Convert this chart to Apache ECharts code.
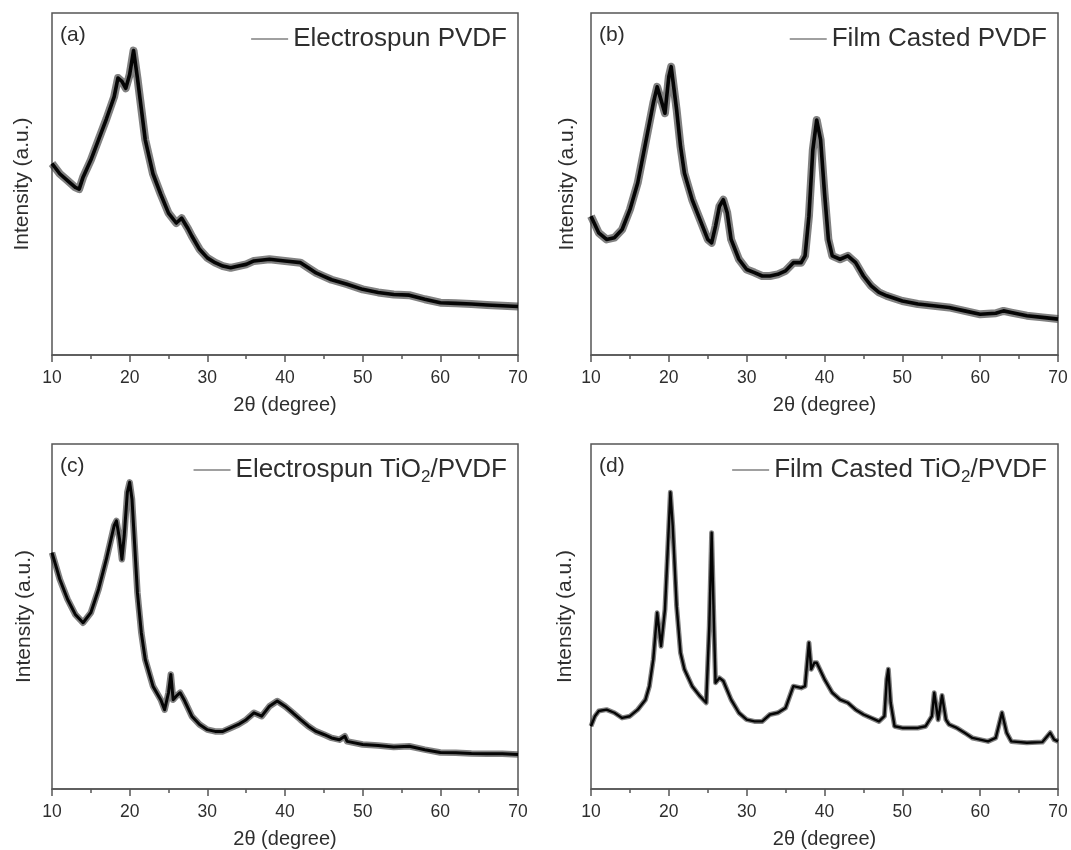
<!DOCTYPE html>
<html>
<head>
<meta charset="utf-8">
<script src="https://cdn.jsdelivr.net/npm/echarts@6/dist/echarts.min.js"></script>
<style>
html,body{margin:0;padding:0;background:#fff;}
#chart{width:1071px;height:850px;}
</style>
</head>
<body>
<div id="chart"></div>
<script>
// ---------- DATA (2θ in degrees, intensity in arbitrary units 0–100) ----------
const panelNames = ['Electrospun PVDF', 'Film Casted PVDF', 'Electrospun TiO2/PVDF', 'Film Casted TiO2/PVDF'];
const panelTags = ['(a)', '(b)', '(c)', '(d)'];
const xTicks = [10, 20, 30, 40, 50, 60, 70];

const aTheta = [10,11,12,13,13.5,14,15,16,17,18,18.5,19,19.5,20,20.5,21,21.5,22,23,24,25,26,26.7,27.5,28,29,30,31,32,33,34,35,36,38,40,42,43,44,45,46,48,50,52,54,56,58,60,62,64,66,68,70];
const aInt   = [56,53,51,49,48.5,52,57,63,69,75.5,81,80,78,82,89,81,72,63,53,47,41.5,38.6,40,37,34.8,30.9,28.4,27,26,25.5,26,26.5,27.5,28,27.5,27,25.5,24,23,22,20.7,19.2,18.3,17.7,17.5,16.3,15.3,15.1,14.9,14.6,14.4,14.2];

const bTheta = [10,11,12,13,14,15,16,17,18,18.5,19,19.5,20,20.3,21,21.5,22,23,24,25,25.5,26,26.5,27,27.5,28,29,30,31,32,33,34,35,36,37,37.5,38,38.5,39,39.5,40,40.5,41,42,43,44,45,46,47,48,50,52,54,56,58,60,62,63,64,66,68,70];
const bInt   = [40.6,35.7,33.8,34.3,36.7,42.5,50.3,61.9,73.6,78.4,74.6,70.7,81.4,84.3,71.7,61,53.2,45.4,39.6,33.8,32.8,37.7,43.5,45.4,41.6,33.8,28,25,24.1,23.1,23.1,23.6,24.6,27,27,29,40.6,60,68.7,62.9,47.4,33.8,29,28,29,27,23.1,20.2,18.3,17.3,15.8,14.9,14.4,13.9,12.9,11.9,12.2,12.9,12.4,11.5,11,10.5];

const cTheta = [10,11,12,13,14,15,16,17,18,18.3,18.7,19,19.3,19.7,20,20.3,20.7,21,21.5,22,23,24,24.5,25,25.3,25.6,26,26.5,27,28,29,30,31,32,33,34,35,36,37,38,39,40,41,42,43,44,45,46,47,47.7,48,50,52,54,56,58,60,62,64,66,68,70];
const cInt   = [68.5,60.8,55,50.6,48.2,51.1,57.9,66.6,76.3,77.7,72.4,66.6,73.4,86,88.9,84,68.5,56.9,45.3,37.6,29.8,25.9,23,27.9,33.2,25.9,26.9,27.9,25.9,21.1,18.7,17.2,16.7,16.7,17.7,18.7,20.1,22.1,21.1,24,25.5,24,22.1,20.1,18.2,16.7,15.8,14.8,14.3,15.3,13.8,12.9,12.6,12.2,12.4,11.4,10.6,10.5,10.3,10.2,10.2,10];

const dTheta = [10,10.5,11,12,13,14,15,16,17,17.5,18,18.5,19,19.5,20,20.2,20.5,21,21.5,22,23,24,24.8,25.2,25.5,25.8,26,26.5,27,28,29,30,31,32,33,34,35,36,37,37.5,38,38.3,38.7,39,40,41,42,43,44,45,46,47,47.7,48,48.2,48.5,49,50,51,52,53,53.8,54.1,54.6,55.1,55.6,56,57,58,59,60,61,62,62.8,63.4,64,66,68,69,69.5,70];
const dInt   = [18.2,21.1,22.6,23,22.1,20.6,21.1,23,25.9,29.8,37.6,51.1,41.4,52,76.3,86,76.3,53,39.5,34.7,29.8,26.9,25,47.2,74.3,47.2,30.8,32.2,31.3,25.9,22.1,20.1,19.6,19.6,21.6,22.1,23.5,29.8,29.3,29.8,42.4,34.7,36.6,36.6,31.8,27.9,25.9,25,23,21.6,20.6,19.6,21.1,31.8,34.7,25,18.2,17.7,17.7,17.7,18.2,21.1,27.9,20.1,27.1,20.1,18.7,17.7,16.3,14.8,14.3,13.8,14.8,22.1,16.3,13.8,13.4,13.6,16.3,14.3,13.8];

const thetas = [aTheta, bTheta, cTheta, dTheta];
const ints = [aInt, bInt, cInt, dInt];

// ---------- LAYOUT ----------
const grids = [
  {left: 52, top: 13, width: 466, height: 342},
  {left: 591, top: 13, width: 467, height: 342},
  {left: 52, top: 444, width: 466, height: 345},
  {left: 591, top: 444, width: 467, height: 345}
];
const yNameGap = [19, 13, 17, 15];
const bandWidth = [8, 8, 6.5, 5];
const coreWidth = [3.6, 3.6, 3, 2.4];
const FONT = '"Liberation Sans", Arial, Helvetica, sans-serif';
const TXT = '#2e2e2e';
const AX = '#555';

const option = {
  backgroundColor: '#fff',
  animation: false,
  textStyle: {fontFamily: FONT},
  title: [],
  legend: [],
  grid: [],
  xAxis: [],
  yAxis: [],
  series: []
};

grids.forEach((g, i) => {
  option.grid.push(Object.assign({show: true, borderColor: AX, borderWidth: 1.5, backgroundColor: 'transparent'}, g));
  option.xAxis.push({
    type: 'value', gridIndex: i, min: 10, max: 70, interval: 10,
    name: '2θ (degree)', nameLocation: 'middle', nameGap: 40,
    nameTextStyle: {fontFamily: FONT, fontSize: 20, color: TXT},
    axisLine: {show: true, lineStyle: {color: AX, width: 1.5}},
    axisTick: {show: true, inside: false, length: 7, lineStyle: {color: AX, width: 1.5}},
    minorTick: {show: true, splitNumber: 2, length: 4, lineStyle: {color: AX, width: 1.5}},
    axisLabel: {show: true, margin: 14, fontFamily: FONT, fontSize: 17.5, color: TXT,
      formatter: v => xTicks.indexOf(v) >= 0 ? String(v) : ''},
    splitLine: {show: false}
  });
  option.yAxis.push({
    type: 'value', gridIndex: i, min: 0, max: 100,
    name: 'Intensity (a.u.)', nameLocation: 'middle', nameGap: yNameGap[i],
    nameTextStyle: {fontFamily: FONT, fontSize: 21, color: TXT},
    axisLine: {show: false}, axisTick: {show: false}, axisLabel: {show: false},
    splitLine: {show: false}
  });
  const pts = thetas[i].map((t, k) => [t, ints[i][k]]);
  // fuzzy noise band underneath
  option.series.push({
    type: 'line', name: panelNames[i], xAxisIndex: i, yAxisIndex: i,
    data: pts, showSymbol: false, symbol: 'none', smooth: false,
    lineStyle: {color: 'rgba(45,45,45,0.6)', width: bandWidth[i], join: 'round'},
    itemStyle: {color: '#9a9a9a'}, z: 2, silent: true
  });
  // dark core
  option.series.push({
    type: 'line', name: panelNames[i] + ' core', xAxisIndex: i, yAxisIndex: i,
    data: pts, showSymbol: false, symbol: 'none', smooth: false,
    lineStyle: {color: '#050505', width: coreWidth[i], join: 'round'}, z: 3, silent: true
  });
  option.legend.push({
    data: [panelNames[i]],
    right: 1071 - (g.left + g.width) + 6,
    top: g.top + 8,
    icon: 'rect', itemWidth: 37, itemHeight: 2,
    itemStyle: {color: '#a0a0a0'},
    selectedMode: false,
    formatter: n => n.replace('TiO2', 'TiO{sub|2}'),
    textStyle: {fontFamily: FONT, fontSize: 26, color: TXT,
      rich: {sub: {fontFamily: FONT, fontSize: 17, color: TXT, verticalAlign: 'bottom', padding: [15, 0, 0, 0]}}}
  });
  option.title.push({
    text: panelTags[i], left: g.left + 3, top: g.top + 7,
    textStyle: {fontFamily: FONT, fontSize: 21, fontWeight: 'normal', color: TXT}
  });
});

const chart = echarts.init(document.getElementById('chart'), null, {renderer: 'canvas'});
chart.setOption(option);
</script>
</body>
</html>
